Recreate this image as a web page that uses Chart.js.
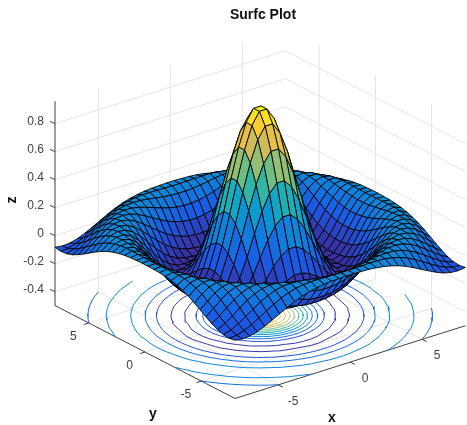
<!DOCTYPE html>
<html>
<head>
<meta charset="utf-8">
<style>
  body { margin: 0; background: #fff; overflow: hidden; }
</style>
<script src="https://cdn.jsdelivr.net/npm/chart.js@4"></script>
</head>
<body>
<canvas id="surfc" width="467" height="425"></canvas>
<script>
// Grid nodes along x and y
const gridX = [-8, -7.48, -6.97, -6.45, -5.94, -5.42, -4.9, -4.39, -3.87, -3.35, -2.84, -2.32, -1.81, -1.29, -0.77, -0.26,
  0.26, 0.77, 1.29, 1.81, 2.32, 2.84, 3.35, 3.87, 4.39, 4.9, 5.42, 5.94, 6.45, 6.97, 7.48, 8];
const gridY = gridX;

// Heights for one quadrant, from the centre outwards. The surface is mirrored in x and y.
const zQuadrant = [
  [.978, .893, .735, .530, .308, .101, -.066, -.172, -.216, -.200, -.139, -.056, .027, .092, .125, .124],
  [.893, .812, .663, .470, .261, .067, -.086, -.183, -.217, -.195, -.132, -.049, .033, .095, .126, .122],
  [.735, .663, .530, .359, .175, .008, -.122, -.198, -.217, -.185, -.117, -.034, .044, .102, .127, .120],
  [.530, .470, .359, .217, .067, -.066, -.163, -.212, -.211, -.167, -.094, -.013, .060, .110, .128, .115],
  [.308, .261, .175, .067, -.043, -.137, -.198, -.217, -.195, -.139, -.064, .014, .079, .119, .128, .107],
  [.101, .067, .008, -.066, -.137, -.191, -.216, -.208, -.167, -.102, -.027, .044, .098, .126, .124, .095],
  [-.066, -.086, -.122, -.163, -.198, -.216, -.211, -.179, -.125, -.056, .014, .075, .115, .128, .115, .079],
  [-.172, -.183, -.198, -.212, -.217, -.208, -.179, -.132, -.072, -.006, .055, .102, .126, .125, .100, .058],
  [-.216, -.217, -.217, -.211, -.195, -.167, -.125, -.072, -.013, .044, .092, .121, .128, .113, .079, .032],
  [-.200, -.195, -.185, -.167, -.139, -.102, -.056, -.006, .044, .087, .117, .128, .120, .092, .051, .004],
  [-.139, -.132, -.117, -.094, -.064, -.027, .014, .055, .092, .117, .128, .122, .100, .064, .020, -.024],
  [-.056, -.049, -.034, -.013, .014, .044, .075, .102, .121, .128, .122, .102, .070, .029, -.013, -.051],
  [.027, .033, .044, .060, .079, .098, .115, .126, .128, .120, .100, .070, .032, -.007, -.045, -.073],
  [.092, .095, .102, .110, .119, .126, .128, .125, .113, .092, .064, .029, -.007, -.042, -.070, -.087],
  [.125, .126, .127, .128, .128, .124, .115, .100, .079, .051, .020, -.013, -.045, -.070, -.087, -.091],
  [.124, .122, .120, .115, .107, .095, .079, .058, .032, .004, -.024, -.051, -.073, -.087, -.091, -.084]
];

const contourLevels = [-0.2, -0.1, 0, 0.1, 0.2, 0.3, 0.4, 0.5, 0.6, 0.7, 0.8, 0.9];
const xTicks = [-5, 0, 5];
const yTicks = [-5, 0, 5];
const zTicks = [-0.4, -0.2, 0, 0.2, 0.4, 0.6, 0.8];
const parula = ['#3a2fa0', '#1a5ae6', '#1080dc', '#0aa0cc', '#38b99e', '#92bf73', '#d9ba56', '#fcce2e', '#f9fb0e'];

const zFloor = -0.5, zTop = 0.96;
const colorMin = -0.217, colorMax = 0.978;

// Fixed 3D view, gives plot coordinates for the hidden x/y scales
const projX = (x, y) => 235 + 14.4 * (x + 8) - 11.25 * (y + 8);
const projY = (x, y, z) => 398.5 - 4.55 * (x + 8) - 5.81 * (y + 8) - 140 * (z - zFloor);
const pt = (x, y, z) => ({ x: projX(x, y), y: projY(x, y, z) });

const zAt = (i, j) => zQuadrant[i < 16 ? 15 - i : i - 16][j < 16 ? 15 - j : j - 16];

function colorFor(z) {
  const t = Math.min(1, Math.max(0, (z - colorMin) / (colorMax - colorMin))) * (parula.length - 1);
  const k = Math.min(parula.length - 2, Math.floor(t));
  const c = [1, 3, 5].map(p => {
    const a = parseInt(parula[k].substr(p, 2), 16);
    const b = parseInt(parula[k + 1].substr(p, 2), 16);
    return Math.round(a + (b - a) * (t - k));
  });
  return `rgb(${c[0]},${c[1]},${c[2]})`;
}

const common = { showLine: true, pointRadius: 0, pointHitRadius: 0, clip: false };

function lineSet(data, color, width) {
  return { ...common, data, borderColor: color, borderWidth: width, fill: false };
}

// Chart.js draws datasets from last to first, so the nearest cells come first
const datasets = [];

// Surface, one closed shape per cell, coloured from its lowest index corner
for (let j = 0; j < gridY.length - 1; j++) {
  for (let i = 0; i < gridX.length - 1; i++) {
    datasets.push({
      ...common,
      data: [
        pt(gridX[i], gridY[j], zAt(i, j)),
        pt(gridX[i + 1], gridY[j], zAt(i + 1, j)),
        pt(gridX[i + 1], gridY[j + 1], zAt(i + 1, j + 1)),
        pt(gridX[i], gridY[j + 1], zAt(i, j + 1)),
        pt(gridX[i], gridY[j], zAt(i, j))
      ],
      fill: 'shape',
      backgroundColor: colorFor(zAt(i, j)),
      borderColor: '#000',
      borderWidth: 0.85,
      borderJoinStyle: 'round',
      borderDash: [1000, 0] // stops the fast path merging corners in one pixel column
    });
  }
}

function contourData(level) {
  const out = [];
  const cross = (i0, j0, i1, j1) => {
    const a = zAt(i0, j0), b = zAt(i1, j1);
    if ((a < level) === (b < level)) return null;
    const t = (level - a) / (b - a);
    return pt(gridX[i0] + (gridX[i1] - gridX[i0]) * t, gridY[j0] + (gridY[j1] - gridY[j0]) * t, zFloor);
  };
  for (let j = 0; j < gridY.length - 1; j++) {
    for (let i = 0; i < gridX.length - 1; i++) {
      const hits = [cross(i, j, i + 1, j), cross(i + 1, j, i + 1, j + 1), cross(i + 1, j + 1, i, j + 1), cross(i, j + 1, i, j)]
        .filter(Boolean);
      for (let k = 0; k + 1 < hits.length; k += 2) {
        out.push(hits[k], hits[k + 1], { x: NaN, y: NaN });
      }
    }
  }
  return out;
}
contourLevels.forEach(level => datasets.push(lineSet(contourData(level), colorFor(level), 1)));

// Axis lines and tick marks
const axisColor = '#404040';
datasets.push(lineSet([pt(-8, 8, zFloor), pt(-8, 8, zTop)], axisColor, 1));
datasets.push(lineSet([pt(-8, 8, zFloor), pt(-8, -8, zFloor), pt(8, -8, zFloor)], axisColor, 1));
zTicks.forEach(z => {
  const p = pt(-8, 8, z);
  datasets.push(lineSet([p, { x: p.x - 5, y: p.y - 2 }], axisColor, 1));
});
xTicks.forEach(x => {
  const p = pt(x, -8, zFloor);
  datasets.push(lineSet([p, { x: p.x + 4.5, y: p.y + 2.3 }], axisColor, 1));
});
yTicks.forEach(y => {
  const p = pt(-8, y, zFloor);
  datasets.push(lineSet([p, { x: p.x - 4.8, y: p.y + 1.5 }], axisColor, 1));
});

// Back walls and floor grid
const gridColor = '#e4e4e4';
zTicks.forEach(z => datasets.push(lineSet([pt(-8, 8, z), pt(8, 8, z), pt(8, -8, z)], gridColor, 1)));
xTicks.forEach(x => datasets.push(lineSet([pt(x, -8, zFloor), pt(x, 8, zFloor), pt(x, 8, zTop)], gridColor, 1)));
yTicks.forEach(y => datasets.push(lineSet([pt(-8, y, zFloor), pt(8, y, zFloor), pt(8, y, zTop)], gridColor, 1)));

// Tick labels and axis names sit at projected spots, so they are drawn here
const axisText = {
  id: 'axisText',
  afterDatasetsDraw(chart) {
    const { ctx, scales } = chart;
    const put = (text, x, y, align, font, rotate) => {
      ctx.save();
      ctx.translate(scales.x.getPixelForValue(x), scales.y.getPixelForValue(y));
      if (rotate) ctx.rotate(rotate);
      ctx.font = font;
      ctx.fillStyle = font.startsWith('bold') ? '#111' : '#404040';
      ctx.textAlign = align;
      ctx.textBaseline = 'middle';
      ctx.fillText(text, 0, 0);
      ctx.restore();
    };
    const tickFont = '12px "Liberation Sans"';
    const nameFont = 'bold 14px "Liberation Sans"';
    zTicks.forEach(z => {
      const p = pt(-8, 8, z);
      put(String(z), p.x - 11, p.y - 1.5, 'right', tickFont);
    });
    xTicks.forEach(x => {
      const p = pt(x, -8, zFloor);
      put(String(x), p.x + 15, p.y + 16.5, 'center', tickFont);
    });
    yTicks.forEach(y => {
      const p = pt(-8, y, zFloor);
      put(String(y), p.x - 15.5, p.y + 14, 'center', tickFont);
    });
    put('z', 12, 200, 'center', nameFont, -Math.PI / 2);
    put('y', 153, 414, 'center', nameFont);
    put('x', 332, 418, 'center', nameFont);
  }
};

new Chart(document.getElementById('surfc'), {
  type: 'scatter',
  data: { datasets },
  plugins: [axisText],
  options: {
    responsive: false,
    animation: false,
    events: [],
    layout: { padding: { right: -59 } }, // title is centred over the axes box, not the window
    plugins: {
      legend: { display: false },
      tooltip: { enabled: false },
      filler: { drawTime: 'beforeDatasetDraw' },
      title: {
        display: true,
        text: 'Surfc Plot',
        color: '#111',
        font: { family: '"Liberation Sans"', size: 14, weight: 'bold', lineHeight: 1 },
        padding: { top: 8, bottom: 0 }
      }
    },
    scales: {
      x: { type: 'linear', display: false, min: 0, max: 467 },
      y: { type: 'linear', display: false, min: 22, max: 425, reverse: true }
    }
  }
});
</script>
</body>
</html>
